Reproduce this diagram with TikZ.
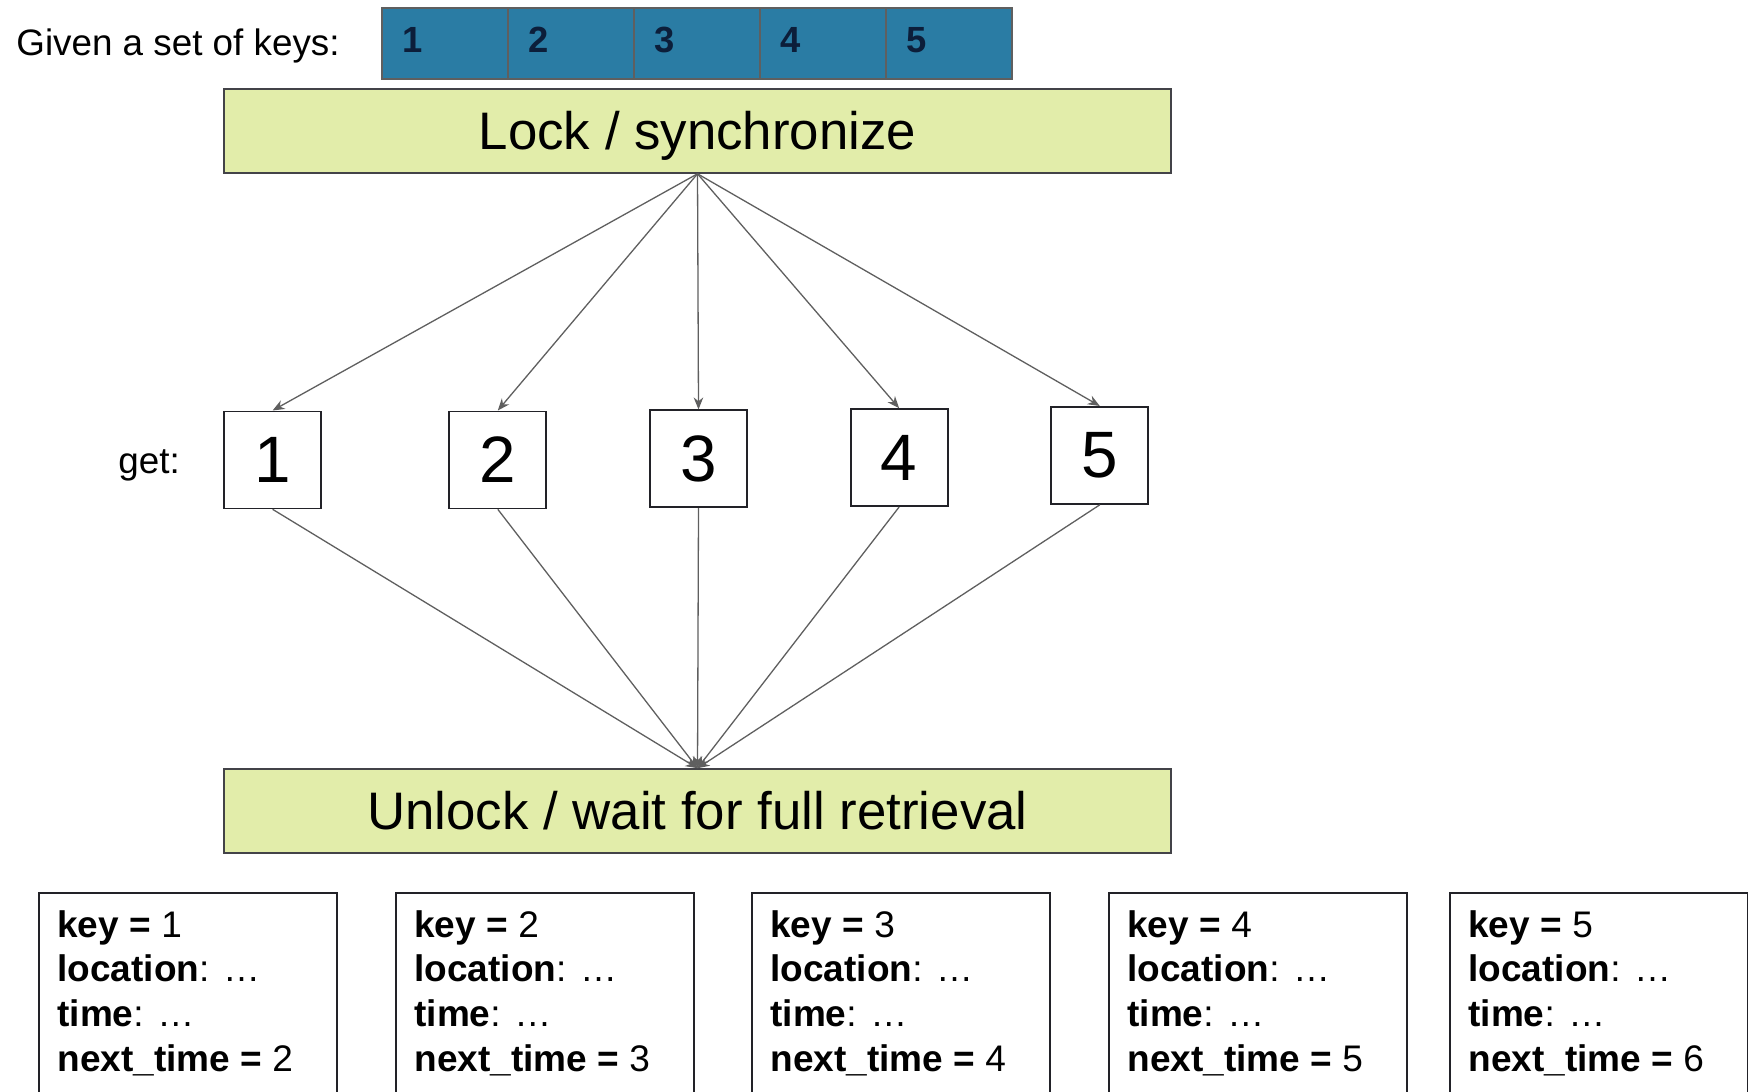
\documentclass[tikz,border=0pt]{standalone}
\usepackage{fontspec}
\setmainfont{Liberation Sans}
\usetikzlibrary{arrows.meta}
\definecolor{keyfill}{RGB}{42,124,164}
\definecolor{keyink}{RGB}{12,30,58}
\definecolor{phasefill}{RGB}{226,237,170}
\definecolor{wire}{RGB}{95,95,95}
\definecolor{frame}{RGB}{34,34,40}

\begin{document}
\begin{tikzpicture}[x=0.5pt,y=-0.5pt,
  plaintext/.style={inner sep=0pt, font=\fontsize{18.4}{22}\selectfont,
    text height=13.2pt, text depth=0pt},
  keycell/.style={draw=wire, line width=1pt, fill=keyfill, minimum width=63pt,
    minimum height=35.5pt, text width=43pt, inner xsep=10pt, inner ysep=0pt,
    text height=13pt, text depth=3.5pt,
    align=left, font=\fontsize{18.2}{20}\selectfont\bfseries, text=keyink},
  phase/.style={draw=frame!85, line width=0.8pt, fill=phasefill, minimum width=473.5pt,
    minimum height=42pt, inner sep=0pt, text height=18.9pt, text depth=0pt,
    font=\fontsize{26.4}{30}\selectfont},
  getbox/.style={draw=frame, line width=0.9pt, minimum size=48.5pt, inner sep=0pt,
    font=\fontsize{32.8}{36}\selectfont},
  recbox/.style={draw=frame, line width=0.8pt, minimum width=149pt, minimum height=150pt,
    anchor=north west, inner sep=0pt},
  rectext/.style={anchor=north west, inner sep=0pt, align=left,
    font=\fontsize{18.5}{22.3}\selectfont},
  link/.style={draw=wire, line width=0.65pt, -{Stealth[length=6pt,width=4.8pt]}}
]
\useasboundingbox (0,0) rectangle (1748,1091);
\clip (0,0) rectangle (1748,1091);

% input keys
\node[plaintext, anchor=west] (given) at (16,42) {Given a set of keys:};
\foreach \i in {1,...,5}
  \node[keycell] (k\i) at ({445+126*(\i-1)},43.5) {\i};

% synchronisation phases
\node[phase] (lock) at (697.5,131) {Lock / synchronize};
\node[phase] (unlock) at (697.5,811) {Unlock / wait for full retrieval};

% parallel gets
\node[plaintext, anchor=west] (getlbl) at (118,460) {get:};
\node[getbox] (g1) at (272.6,459.9) {1};
\node[getbox] (g2) at (497.8,459.9) {2};
\node[getbox] (g3) at (698.5,458.8) {3};
\node[getbox] (g4) at (899.1,457.6) {4};
\node[getbox] (g5) at (1099.8,455.4) {5};

\foreach \i in {1,...,5} {
  \draw[link] (lock.south) -- (g\i.north);
  \draw[link] (g\i.south) -- (unlock.north);
}

% retrieved records
\foreach \x/\k in {38/1,395/2,751/3,1108/4,1449/5} {
  \node[recbox] (r\k) at (\x,892) {};
  \pgfmathtruncatemacro{\nxt}{\k+1}
  \node[rectext] (t\k) at ([xshift=9.5pt,yshift=-9pt]r\k.north west)
    {\textbf{key =} \k\\ \textbf{location}: …\\ \textbf{time}: …\\ \textbf{next\_time =} \nxt};
}
\end{tikzpicture}
\end{document}
